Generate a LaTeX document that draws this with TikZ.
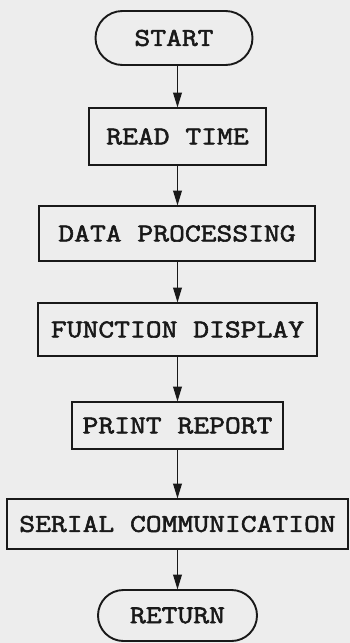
\documentclass[tikz,border=0pt]{standalone}
\usepackage{fontspec}
\setmonofont{Latin Modern Mono}[FakeBold=2.2, FakeStretch=1.2]
\usetikzlibrary{arrows.meta,shapes.misc}

\tikzset{
  ink/.style={draw=black!90, line width=1.9pt},
  procbox/.style={ink, rectangle, inner sep=0pt, font=\ttfamily\fontsize{25.6}{28}\selectfont, text=black!90},
  termbox/.style={procbox, rounded rectangle},
  arr/.style={ink, -{Triangle[length=15pt,width=8.5pt]}, shorten >=-0.6pt}
}

\begin{document}
\begin{tikzpicture}[x=1pt,y=-1pt]
  % paper
  \fill[black!7] (0,0) rectangle (350,643);
  \useasboundingbox (0,0) rectangle (350,643);

  \node[termbox, minimum width=157pt, minimum height=54pt] (start) at (174,38) {START};
  \node[procbox, minimum width=177pt, minimum height=57pt] (rt)   at (177.5,136.5) {READ TIME};
  \node[procbox, minimum width=276pt, minimum height=55pt] (dp)   at (177,233.5) {DATA PROCESSING};
  \node[procbox, minimum width=279pt, minimum height=53pt] (fd)   at (177.5,329.5) {FUNCTION DISPLAY};
  \node[procbox, minimum width=211pt, minimum height=47pt] (pr)   at (177.5,425.5) {PRINT REPORT};
  \node[procbox, minimum width=341pt, minimum height=50pt] (sc)   at (177.5,524) {SERIAL COMMUNICATION};
  \node[termbox, minimum width=159pt, minimum height=51pt] (ret)  at (177.5,615.5) {RETURN};

  \draw[arr] (start.south -| rt.north) -- (rt.north);
  \draw[arr] (rt.south) -- (dp.north -| rt.south);
  \draw[arr] (dp.south -| rt.south) -- (fd.north -| rt.south);
  \draw[arr] (fd.south -| rt.south) -- (pr.north);
  \draw[arr] (pr.south) -- (sc.north);
  \draw[arr] (sc.south) -- (ret.north);
\end{tikzpicture}
\end{document}
